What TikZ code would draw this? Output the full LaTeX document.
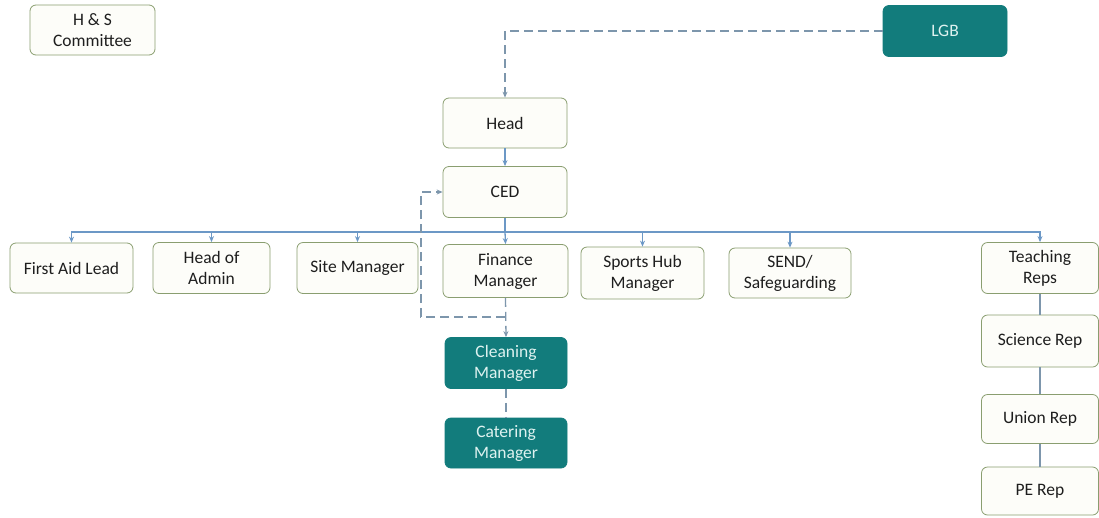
\documentclass[tikz,border=0pt]{standalone}
\usepackage{fontspec}
\setmainfont{Carlito}
\usetikzlibrary{arrows.meta}
\definecolor{boxline}{RGB}{138,158,112}
\definecolor{boxfill}{RGB}{253,253,249}
\definecolor{tealfill}{RGB}{18,124,124}
\definecolor{tealtext}{RGB}{222,242,240}
\definecolor{busline}{RGB}{108,152,198}
\definecolor{dashline}{RGB}{125,150,172}
\definecolor{txt}{RGB}{30,30,30}
\tikzset{
  box/.style={draw=boxline, fill=boxfill, line width=0.8pt, rounded corners=6pt,
    align=center, text=txt, font=\fontsize{17.5}{21}\selectfont, inner sep=1pt},
  tealbox/.style={box, draw=tealfill, fill=tealfill, text=tealtext},
  conn/.style={draw=busline, line width=1.3pt},
  tip/.style={-{Stealth[length=6pt,width=5pt]}},
  dashconn/.style={draw=dashline, line width=1.3pt, dash pattern=on 9pt off 5pt},
  repconn/.style={draw=dashline, line width=1.1pt},
}
\begin{document}
\begin{tikzpicture}[x=1pt,y=-1pt]
\useasboundingbox (0,0) rectangle (1099,517);
\fill[white] (0,0) rectangle (1099,517);
% top
\node[box, minimum width=125pt, minimum height=50pt] (hs) at (92.5,30) {H \& S\\Committee};
\node[tealbox, minimum width=124pt, minimum height=51pt] (lgb) at (945,31) {LGB};
\node[box, minimum width=124pt, minimum height=50pt] (head) at (505,123) {Head};
\node[box, minimum width=124pt, minimum height=51pt] (ced) at (505,192) {CED};
% children
\node[box, minimum width=123pt, minimum height=50pt] (fal) at (71.5,268) {First Aid Lead};
\node[box, minimum width=117pt, minimum height=51pt] (hoa) at (211.5,268) {Head of\\Admin};
\node[box, minimum width=121pt, minimum height=51pt] (site) at (357.5,268) {Site Manager};
\node[box, minimum width=125pt, minimum height=53pt] (fin) at (505.5,271) {Finance\\Manager};
\node[box, minimum width=123pt, minimum height=52pt] (sports) at (642.5,273) {Sports Hub\\Manager};
\node[box, minimum width=122pt, minimum height=50pt] (send) at (790,273) {SEND/\\Safeguarding};
\node[box, minimum width=117pt, minimum height=51pt] (teach) at (1040,268) {Teaching\\Reps};
\node[box, minimum width=117pt, minimum height=52pt] (sci) at (1040,341) {Science Rep};
\node[box, minimum width=117pt, minimum height=49pt] (union) at (1040,419) {Union Rep};
\node[box, minimum width=117pt, minimum height=48pt] (pe) at (1040,491) {PE Rep};
\node[tealbox, minimum width=122pt, minimum height=51pt] (clean) at (506,363) {Cleaning\\Manager};
\node[tealbox, minimum width=122pt, minimum height=50pt] (cater) at (506,443) {Catering\\Manager};
% connectors
\draw[dashconn, tip] (lgb.west) -| (head.north);
\draw[conn, tip] (head.south) -- (ced.north);
\coordinate (bus) at (505,232);
\draw[conn] (ced.south) -- (bus);
\draw[conn, tip] (bus) -| (fal.north);
\draw[conn, tip] (bus) -| (hoa.north);
\draw[conn, tip] (bus) -| (site.north);
\draw[conn, tip] (bus) -- (fin.north);
\draw[conn, tip] (bus) -| (sports.north);
\draw[conn, tip] (bus) -| (send.north);
\draw[conn, tip] (bus) -| (teach.north);
\draw[repconn] (teach.south) -- (sci.north);
\draw[repconn] (sci.south) -- (union.north);
\draw[repconn] (union.south) -- (pe.north);
\coordinate (j) at (505,317);
\coordinate (k) at (421,317);
\draw[dashconn, tip] (fin.south) -- (clean.north);
\draw[dashconn, tip] (j) -- (k) |- (ced.west);
\draw[dashconn] (clean.south) -- (cater.north);
\end{tikzpicture}
\end{document}
